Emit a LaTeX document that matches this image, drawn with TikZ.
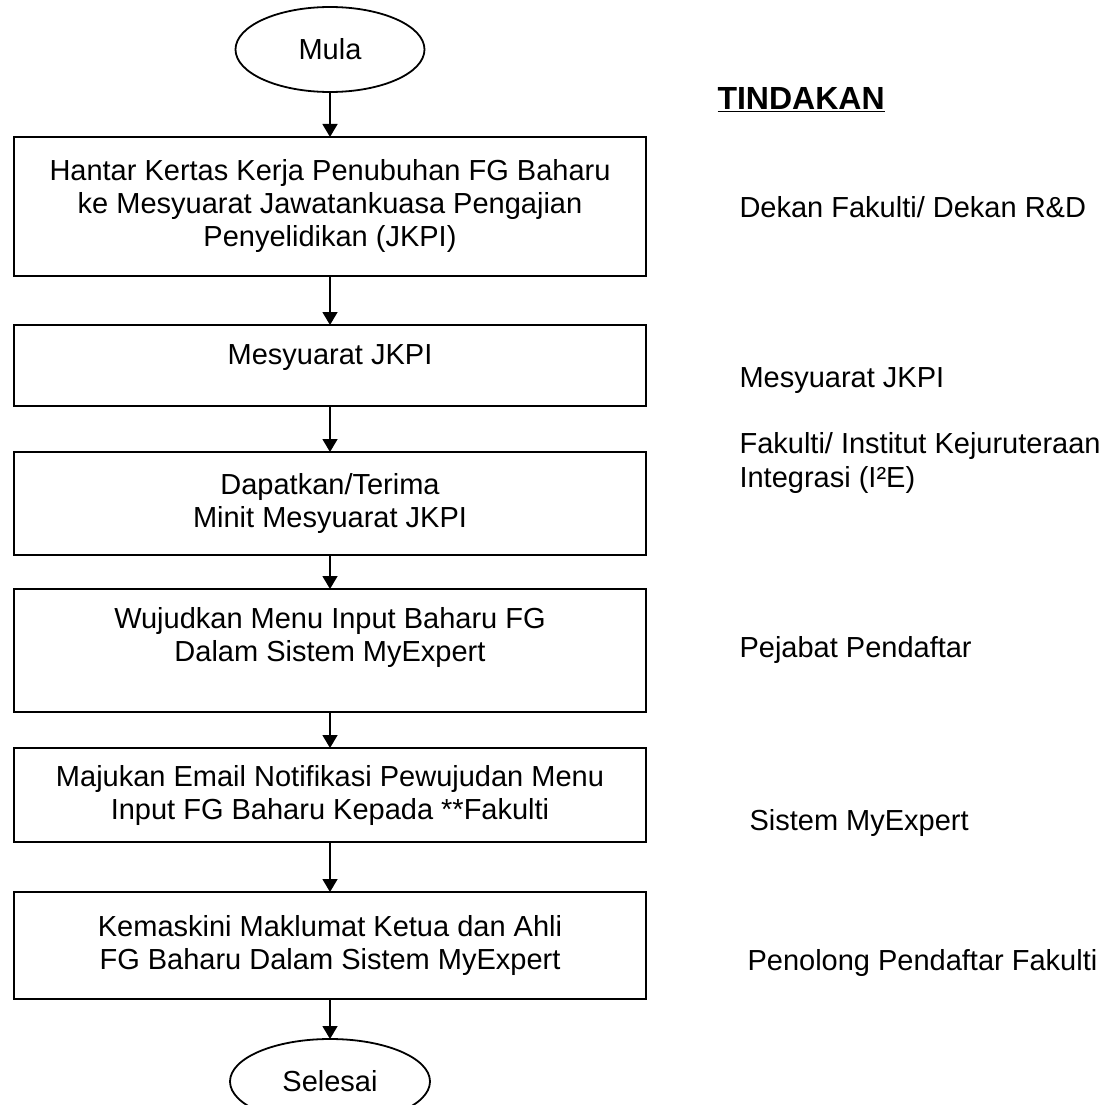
\documentclass[tikz,border=0pt]{standalone}
\usepackage{fontspec}
\setmainfont{Liberation Sans}
\usetikzlibrary{shapes, arrows.meta, positioning}
\tikzstyle{process}  = [rectangle, draw, line width=1.8pt, text centered, align=center, minimum width=632pt, inner sep=0pt, outer sep=0pt, font=\fontsize{29}{33}\selectfont]
\tikzstyle{terminal} = [ellipse, draw, line width=1.8pt, minimum width=189pt, minimum height=85pt, inner sep=0pt, outer sep=0pt, font=\fontsize{29}{33}\selectfont]
\tikzstyle{action}   = [anchor=base west, align=left, font=\fontsize{29}{34}\selectfont]
\tikzstyle{line}     = [draw, line width=1.5pt, -{Triangle[width=15pt,length=13pt]}]

\begin{document}
\begin{tikzpicture}[x=1pt, y=1pt]
    \useasboundingbox (0,0) rectangle (1109,-1105);
    \node[terminal](mula) at (330,-49.5){Mula};
    \node[process, minimum height=139pt, below=45pt of mula](hantar){Hantar Kertas Kerja Penubuhan FG Baharu\\ke Mesyuarat Jawatankuasa Pengajian\\Penyelidikan (JKPI)};
    \node[process, minimum height=81pt, text depth=22pt, below=49pt of hantar](mesyuarat){Mesyuarat JKPI};
    \node[process, minimum height=103pt, below=46pt of mesyuarat](minit){Dapatkan/Terima\\Minit Mesyuarat JKPI};
    \node[process, minimum height=123pt, below=34pt of minit](wujud){Wujudkan Menu Input Baharu FG\\Dalam Sistem MyExpert\\\mbox{}};
    \node[process, minimum height=94pt, below=36pt of wujud](email){Majukan Email Notifikasi Pewujudan Menu\\Input FG Baharu Kepada **Fakulti};
    \node[process, minimum height=107pt, below=50pt of email](kemaskini){Kemaskini Maklumat Ketua dan Ahli\\FG Baharu Dalam Sistem MyExpert};
    \node[terminal, minimum width=200pt, below=40pt of kemaskini](selesai){Selesai};

    \path[line](mula) -- (hantar);
    \path[line](hantar) -- (mesyuarat);
    \path[line](mesyuarat) -- (minit);
    \path[line](minit) -- (wujud);
    \path[line](wujud) -- (email);
    \path[line](email) -- (kemaskini);
    \path[line](kemaskini) -- (selesai);

    % tindakan
    \node[anchor=base west, font=\fontsize{32}{36}\selectfont\bfseries](tindakan) at (714,-110){\underline{TINDAKAN}};
    \node[action](dekan) at (736,-217){Dekan Fakulti/ Dekan R\&D};
    \node[action](jkpi) at (736,-387){Mesyuarat JKPI};
    \node[action](fakulti) at (736,-487){Fakulti/ Institut Kejuruteraan\\Integrasi (I²E)};
    \node[action](pejabat) at (736,-657){Pejabat Pendaftar};
    \node[action](sistem) at (746,-830){Sistem MyExpert};
    \node[action](penolong) at (744,-970){Penolong Pendaftar Fakulti};
\end{tikzpicture}
\end{document}
